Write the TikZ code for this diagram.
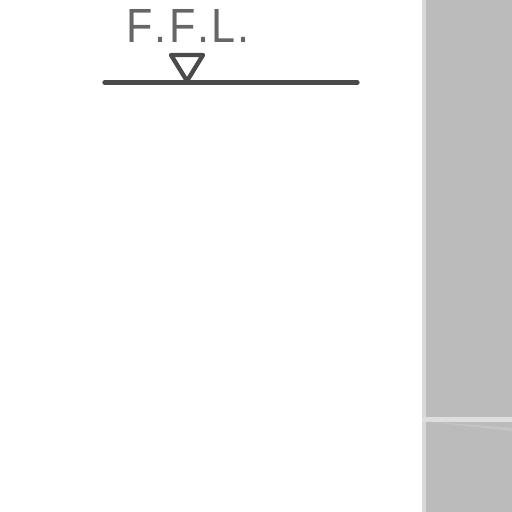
\documentclass[tikz,border=0pt]{standalone}
\usepackage{fontspec}
\setmainfont{Liberation Sans}[FakeStretch=0.9]
\definecolor{panel}{HTML}{BBBBBB}
\definecolor{edgeA}{HTML}{D8D8D8}
\definecolor{bandA}{HTML}{DEDEDE}
\definecolor{inkA}{HTML}{4A4A4A}
\definecolor{textA}{HTML}{666666}
\tikzset{levelline/.style={draw=inkA,line width=4.3pt,line cap=round,line join=round}}
\begin{document}
\begin{tikzpicture}[x=1pt,y=-1pt]
\useasboundingbox (0,0) rectangle (512,512);
\fill[white] (0,0) rectangle (512,512);
% right panel
\fill[panel] (422,0) rectangle (512,512);
\fill[edgeA] (422,0) rectangle (426,512);
\fill[bandA] (422,417) rectangle (512,421.5);
\fill[panel!85!white] (426,421.5) -- (512,431) -- (512,428) -- cycle;
% level symbol
\coordinate (lineL) at (104.5,82.5);
\coordinate (lineR) at (357.5,82.5);
\coordinate (triA) at (171,55);
\coordinate (triB) at (203,55);
\coordinate (triC) at (187,81);
\draw[levelline] (lineL) -- (lineR);
\draw[levelline] (triA) -- (triB) -- (triC) -- cycle;
\node[anchor=base west,inner sep=0pt,text=textA,font=\fontsize{48}{48}\selectfont] (ffl) at (126.2,42) {F\kern1.8pt.\kern3pt F\kern1.4pt.\kern1.9pt L\kern2pt.};
\end{tikzpicture}
\end{document}
